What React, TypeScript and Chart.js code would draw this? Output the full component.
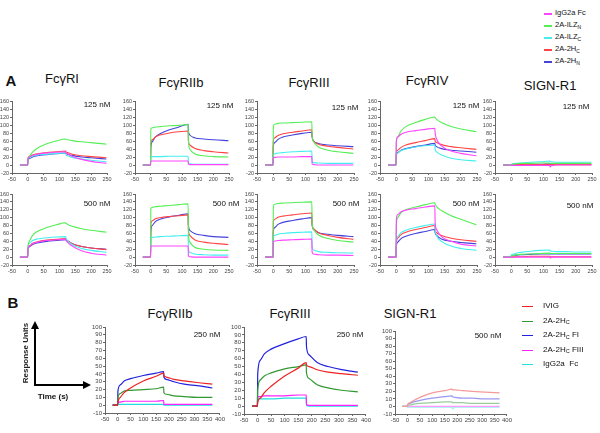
import React, { useEffect, useRef } from 'react';
import { Chart, registerables } from 'chart.js';
Chart.register(...registerables);

// ---------- Data ----------
// Row A time grid (s)
const XA = [-25, -0.5, 0.5, 5, 15, 30, 60, 90, 119.5, 120.5, 125, 140, 170, 200, 248];
// Row B time grid (s)
const XB = [-20, -0.5, 0.5, 10, 25, 50, 100, 150, 179.5, 180.5, 190, 220, 260, 310, 370];

// Row A series order: IgG2a Fc, 2A-ILZN, 2A-ILZC, 2A-2HC, 2A-2HN
const FcRI_125 = [
  [0, 0, 16, 20, 24, 27, 30, 32, 33, 31, 28, 22, 14, 9, 4],
  [0, 0, 15, 22, 32, 42, 53, 60, 65, 64, 63, 61, 58, 56, 52],
  [0, 0, 14, 18, 22, 25, 27, 29, 30, 25, 23, 19, 15, 12, 8],
  [0, 0, 17, 21, 25, 28, 31, 33, 35, 33, 31, 27, 23, 21, 18],
  [0, 0, 12, 16, 20, 23, 26, 28, 30, 29, 27, 24, 20, 18, 15],
];
const FcRI_500 = [
  [0, 0, 22, 28, 34, 38, 42, 44, 45, 43, 38, 28, 16, 10, 5],
  [0, 0, 25, 40, 55, 65, 75, 82, 87, 86, 83, 78, 72, 68, 63],
  [0, 0, 28, 35, 42, 46, 49, 51, 52, 48, 42, 32, 22, 17, 12],
  [0, 0, 22, 28, 35, 39, 43, 45, 47, 45, 42, 34, 27, 23, 19],
  [0, 0, 20, 26, 32, 36, 40, 42, 44, 44, 41, 34, 27, 23, 20],
];
const FcRIIb_125 = [
  [0, 0, 10, 10, 10, 10, 10, 10, 10, 2, 1, 1, 1, 1, 1],
  [0, 0, 90, 93, 95, 96, 98, 99, 101, 60, 40, 28, 23, 21, 20],
  [0, 0, 20, 21, 21, 21, 22, 22, 22, 5, 3, 2, 2, 2, 2],
  [0, 0, 55, 63, 70, 75, 80, 83, 85, 60, 50, 42, 36, 33, 30],
  [0, 0, 45, 58, 70, 78, 88, 95, 102, 85, 75, 68, 65, 63, 61],
];
const FcRIIb_500 = [
  [0, 0, 28, 28, 28, 28, 28, 28, 28, 3, 1, 0, 0, 0, 0],
  [0, 0, 123, 126, 128, 129, 131, 133, 135, 60, 38, 25, 20, 18, 17],
  [0, 0, 48, 50, 51, 52, 53, 54, 55, 20, 12, 8, 6, 5, 5],
  [0, 0, 85, 92, 97, 100, 103, 105, 107, 70, 55, 44, 38, 35, 32],
  [0, 0, 65, 80, 90, 96, 102, 106, 110, 80, 68, 60, 55, 52, 50],
];
const FcRIII_125 = [
  [0, 0, 18, 19, 20, 20, 20, 21, 21, 3, 1, 0, 0, 0, 0],
  [0, 0, 98, 102, 104, 105, 106, 107, 108, 75, 58, 45, 37, 33, 29],
  [0, 0, 26, 28, 30, 31, 33, 34, 35, 10, 6, 5, 4, 4, 4],
  [0, 0, 60, 68, 74, 78, 82, 85, 88, 72, 60, 52, 47, 44, 40],
  [0, 0, 48, 56, 64, 70, 75, 79, 82, 70, 60, 54, 50, 48, 46],
];
const FcRIII_500 = [
  [0, 0, 40, 41, 42, 43, 44, 45, 46, 12, 8, 6, 5, 5, 4],
  [0, 0, 130, 134, 136, 137, 138, 139, 140, 90, 70, 56, 47, 42, 38],
  [0, 0, 52, 55, 58, 60, 62, 63, 64, 25, 18, 14, 12, 11, 10],
  [0, 0, 90, 96, 101, 104, 107, 110, 112, 85, 72, 62, 55, 50, 45],
  [0, 0, 65, 75, 83, 88, 93, 97, 100, 80, 70, 62, 58, 55, 52],
];
const FcRIV_125 = [
  [0, 0, 60, 70, 77, 82, 86, 89, 92, 80, 65, 48, 35, 29, 23],
  [0, 0, 55, 70, 85, 96, 106, 114, 120, 118, 114, 106, 96, 90, 83],
  [0, 0, 22, 30, 36, 40, 45, 48, 50, 40, 33, 25, 17, 13, 10],
  [0, 0, 30, 37, 44, 50, 56, 61, 66, 60, 56, 51, 46, 43, 39],
  [0, 0, 25, 31, 37, 41, 46, 50, 54, 50, 46, 41, 37, 35, 32],
];
const FcRIV_500 = [
  [0, 0, 95, 108, 115, 119, 123, 127, 130, 90, 70, 52, 40, 33, 28],
  [0, 0, 80, 100, 113, 120, 127, 133, 138, 135, 128, 118, 105, 96, 82],
  [0, 0, 40, 52, 62, 68, 75, 80, 84, 70, 55, 40, 28, 22, 17],
  [0, 0, 35, 48, 57, 63, 70, 75, 80, 70, 62, 55, 48, 44, 40],
  [0, 0, 28, 38, 47, 53, 60, 65, 70, 62, 55, 46, 40, 37, 34],
];
const SIGNR1_125 = [
  [0, 0, -1, -1, -1, -1, -1, -1, -1, -5, -1, 0, 0, 0, 0],
  [0, 0, 1, 2, 3, 4, 4, 5, 5, 4, 4, 4, 4, 4, 4],
  [0, 0, 2, 3, 4, 5, 7, 8, 10, 8, 8, 7, 7, 7, 7],
  [0, 0, 0, 0, 1, 1, 1, 1, 2, 1, 1, 1, 1, 1, 1],
  [0, 0, 1, 1, 1, 2, 2, 2, 3, 2, 2, 2, 2, 2, 2],
];
const SIGNR1_500 = [
  [0, 0, -1, -1, 0, 0, 0, 0, 0, -2, 0, 0, 0, 0, 0],
  [0, 0, 3, 4, 6, 7, 8, 9, 10, 9, 9, 9, 9, 9, 9],
  [0, 0, 5, 7, 10, 12, 15, 17, 18, 16, 15, 14, 14, 13, 13],
  [0, 0, 1, 1, 1, 1, 2, 2, 2, 1, 1, 1, 1, 1, 1],
  [0, 0, 3, 4, 5, 6, 7, 8, 8, 8, 8, 8, 8, 8, 8],
];

// Row B series order: IVIG, 2A-2HC, 2A-2HC FI, 2A-2HC FIII, IgG2a Fc
const B_FcRIIb_250 = [
  [0, 0, 4, 10, 16, 22, 31, 37, 41, 38, 36, 33, 31, 29, 27],
  [0, 0, 10, 15, 18, 19, 20, 21, 23, 16, 14, 12, 11, 10, 10],
  [0, 0, 18, 26, 31, 34, 38, 41, 43, 36, 33, 30, 27, 25, 22],
  [0, 0, 4, 4, 5, 5, 5, 5, 6, 1, 1, 1, 1, 1, 1],
  [0, 0, 1, 1, 1, 1, 1, 1, 1, 0, 0, 0, 0, 0, 0],
];
const B_FcRIII_250 = [
  [0, 0, 5, 10, 17, 25, 38, 48, 55, 52, 50, 46, 43, 41, 39],
  [0, 0, 20, 33, 38, 42, 47, 50, 52, 42, 35, 27, 23, 20, 18],
  [0, 0, 40, 58, 66, 72, 79, 85, 88, 75, 65, 55, 50, 46, 43],
  [0, 0, 12, 12, 13, 13, 13, 14, 14, 2, 1, 1, 1, 1, 1],
  [0, 0, 9, 9, 9, 9, 10, 10, 10, 1, 0, 0, 0, 0, 0],
];
const B_SIGNR1_500 = [
  [0, 0, 2, 5, 8, 12, 18, 21, 23, 22, 22, 21, 20, 19, 18],
  [0, 0, 1, 2, 3, 4, 5, 6, 6, 5, 5, 5, 4, 4, 4],
  [0, 0, 2, 4, 6, 8, 11, 13, 14, 13, 12, 11, 11, 10, 10],
  [0, 0, 0, 0, 0, 0, 0, 0, 0, 0, 0, 0, 0, 0, 0],
  [0, 0, -1, -1, -1, -1, -1, -1, -1, -3, -1, -1, -1, -1, -1],
];

const COLORS_A = ['#ff44ff', '#55ee55', '#44eeee', '#ff4444', '#4444dd'];
const COLORS_B = ['#ee2222', '#339933', '#2222dd', '#ff22ff', '#22dddd'];
const COLORS_B_PALE = ['#f49a9a', '#99cc99', '#9a9af0', '#ff99ff', '#99eeee'];

const FONT = '"Liberation Sans", Arial, sans-serif';

type PanelProps = {
  left: number; top: number; w: number; h: number;
  xs: number[]; series: number[][]; colors: string[];
  xmin: number; xmax: number; xstep: number;
  ymin: number; ymax: number; ystep: number;
  font: number; yW: number; xH: number; lw: number;
};

function Panel(p: PanelProps) {
  const ref = useRef<HTMLCanvasElement>(null);
  const pad = 6;
  const cw = p.w + p.yW + pad * 2;
  const ch = p.h + p.xH + pad * 2;
  useEffect(() => {
    if (!ref.current) return;
    const axisColor = '#666';
    const chart = new Chart(ref.current, {
      type: 'scatter',
      data: {
        datasets: p.series.map((ys, i) => ({
          data: ys.map((y, j) => ({ x: p.xs[j], y })),
          borderColor: p.colors[i],
          backgroundColor: p.colors[i],
          borderWidth: p.lw,
          showLine: true,
          pointRadius: 0,
          cubicInterpolationMode: 'monotone' as const,
          fill: false,
        })),
      },
      options: {
        animation: false,
        responsive: false,
        maintainAspectRatio: false,
        plugins: { legend: { display: false }, tooltip: { enabled: false } },
        layout: { padding: { left: pad, right: pad, top: pad, bottom: pad }, autoPadding: false },
        scales: {
          x: {
            type: 'linear', min: p.xmin, max: p.xmax,
            ticks: { stepSize: p.xstep, font: { size: p.font, family: FONT }, color: '#444', padding: 1, maxRotation: 0, autoSkip: false },
            grid: { display: true, drawOnChartArea: false, drawTicks: true, tickLength: 2, color: axisColor },
            border: { color: axisColor, width: 1 },
            afterFit: (s: any) => { s.height = p.xH; },
          },
          y: {
            type: 'linear', min: p.ymin, max: p.ymax,
            ticks: { stepSize: p.ystep, font: { size: p.font, family: FONT }, color: '#444', padding: 1, autoSkip: false },
            grid: { display: true, drawOnChartArea: false, drawTicks: true, tickLength: 2, color: axisColor },
            border: { color: axisColor, width: 1 },
            afterFit: (s: any) => { s.width = p.yW; },
          },
        },
      },
    } as any);
    return () => chart.destroy();
  }, []);
  return (
    <canvas
      ref={ref}
      width={cw}
      height={ch}
      style={{ position: 'absolute', left: p.left - p.yW - pad, top: p.top - pad, width: cw, height: ch }}
    />
  );
}

function T(props: { x: number; y: number; size: number; bold?: boolean; children: React.ReactNode; anchor?: 'start' | 'middle' }) {
  const { x, y, size, bold, children, anchor = 'middle' } = props;
  return (
    <div
      style={{
        position: 'absolute', left: x, top: y, fontSize: size, fontFamily: FONT,
        fontWeight: bold ? 'bold' : 'normal', lineHeight: 1, whiteSpace: 'nowrap', color: '#111',
        transform: anchor === 'middle' ? 'translate(-50%, -50%)' : 'translate(0, -50%)',
      }}
    >
      {children}
    </div>
  );
}

const sub = (s: string, size: number) => <sub style={{ fontSize: size, verticalAlign: 'baseline', position: 'relative', top: size * 0.35 }}>{s}</sub>;

export default function App() {
  useEffect(() => { document.body.style.margin = '0'; }, []);
  const rowA = { xs: XA, colors: COLORS_A, xmin: -50, xmax: 250, xstep: 50, ymin: -20, ymax: 160, ystep: 20, font: 5.5, yW: 14, xH: 9, lw: 1.1 };
  const rowB = { xs: XB, xmin: -50, xmax: 400, xstep: 50, ymin: -10, ymax: 100, ystep: 10, font: 6, yW: 14, xH: 10, lw: 1.2 };
  const colsA = [12, 135, 257, 380, 495];
  const wA = [95, 94, 97, 97, 97];
  const top1 = 101, h1 = 72, top2 = 194, h2 = 71;
  const row1 = [FcRI_125, FcRIIb_125, FcRIII_125, FcRIV_125, SIGNR1_125];
  const row2 = [FcRI_500, FcRIIb_500, FcRIII_500, FcRIV_500, SIGNR1_500];
  const conc1 = [[97, 105], [220, 106], [345, 108], [466, 106], [576, 107]];
  const conc2 = [[97, 204], [226, 204], [346, 204], [466, 204], [580, 206]];
  const titles = [['Fc\u03b3RI', 62, 78], ['Fc\u03b3RIIb', 181, 82], ['Fc\u03b3RIII', 309, 82], ['Fc\u03b3RIV', 427, 80], ['SIGN-R1', 550, 85]];
  const legA: [React.ReactNode, string][] = [
    [<>IgG2a Fc</>, COLORS_A[0]],
    [<>2A-ILZ{sub('N', 5)}</>, COLORS_A[1]],
    [<>2A-ILZ{sub('C', 5)}</>, COLORS_A[2]],
    [<>2A-2H{sub('C', 5)}</>, COLORS_A[3]],
    [<>2A-2H{sub('N', 5)}</>, COLORS_A[4]],
  ];
  const legB: [React.ReactNode, string][] = [
    [<>IVIG</>, COLORS_B[0]],
    [<>2A-2H{sub('C', 5.5)}</>, COLORS_B[1]],
    [<>2A-2H{sub('C', 5.5)} FI</>, COLORS_B[2]],
    [<>2A-2H{sub('C', 5.5)} FIII</>, COLORS_B[3]],
    [<>IgG2a&nbsp; Fc</>, COLORS_B[4]],
  ];
  return (
    <div style={{ position: 'fixed', left: 0, top: 0, width: 600, height: 433, background: '#fff', overflow: 'hidden' }}>
      {/* Legend A */}
      {legA.map(([label, c], i) => (
        <React.Fragment key={'la' + i}>
          <div style={{ position: 'absolute', left: 544, top: 13 + i * 12, width: 8, height: 1.5, background: c }} />
          <T x={555} y={13 + i * 12} size={7.5} anchor="start">{label}</T>
        </React.Fragment>
      ))}
      <T x={11} y={80} size={15} bold>A</T>
      {titles.map(([t, x, y], i) => (
        <T key={'t' + i} x={x as number} y={y as number} size={13}>{t as string}</T>
      ))}
      {row1.map((s, i) => (
        <Panel key={'r1' + i} {...rowA} left={colsA[i]} top={top1} w={wA[i]} h={h1} series={s} />
      ))}
      {row2.map((s, i) => (
        <Panel key={'r2' + i} {...rowA} left={colsA[i]} top={top2} w={wA[i]} h={h2} series={s} />
      ))}
      {conc1.map(([x, y], i) => <T key={'c1' + i} x={x} y={y} size={8}>125 nM</T>)}
      {conc2.map(([x, y], i) => <T key={'c2' + i} x={x} y={y} size={8}>500 nM</T>)}

      {/* Section B */}
      <T x={13} y={302} size={15} bold>B</T>
      <T x={170} y={313} size={13}>Fc{'\u03b3'}RIIb</T>
      <T x={290} y={313} size={13}>Fc{'\u03b3'}RIII</T>
      <T x={410} y={313} size={13}>SIGN-R1</T>
      <svg style={{ position: 'absolute', left: 0, top: 0 }} width={600} height={433}>
        <line x1={35} y1={385} x2={35} y2={328} stroke="#000" strokeWidth={2} />
        <polygon points="31,329 39,329 35,321" fill="#000" />
        <line x1={34} y1={385} x2={84} y2={385} stroke="#000" strokeWidth={2} />
        <polygon points="83,381 83,389 91,385" fill="#000" />
      </svg>
      <div style={{ position: 'absolute', left: 26, top: 353, transform: 'translate(-50%, -50%) rotate(-90deg)', fontFamily: FONT, fontWeight: 'bold', fontSize: 8, whiteSpace: 'nowrap', lineHeight: 1, color: '#222' }}>Response Units</div>
      <T x={53} y={397} size={8} bold>Time (s)</T>
      <Panel {...rowB} colors={COLORS_B} left={105} top={327} w={115} h={86} series={B_FcRIIb_250} />
      <Panel {...rowB} colors={COLORS_B} left={244} top={327} w={122} h={87} series={B_FcRIII_250} />
      <Panel {...rowB} colors={COLORS_B_PALE} left={395} top={331} w={112} h={83} series={B_SIGNR1_500} />
      <T x={207} y={335} size={8}>250 nM</T>
      <T x={350} y={335} size={8}>250 nM</T>
      <T x={488} y={336} size={8}>500 nM</T>
      {/* Legend B */}
      {legB.map(([label, c], i) => (
        <React.Fragment key={'lb' + i}>
          <div style={{ position: 'absolute', left: 522, top: 306 + i * 14.5, width: 11, height: 1.3, background: c }} />
          <T x={543} y={306 + i * 14.5} size={8} anchor="start">{label}</T>
        </React.Fragment>
      ))}
    </div>
  );
}
